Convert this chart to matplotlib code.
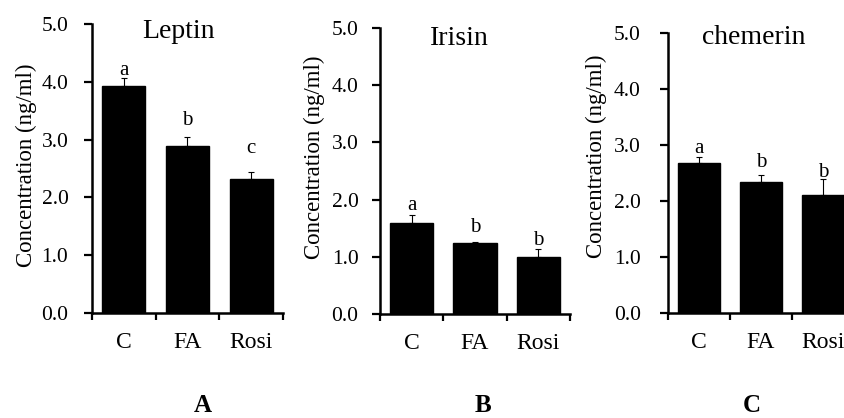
import matplotlib
matplotlib.use("Agg")
import matplotlib.pyplot as plt
import numpy as np

plt.rcParams["font.family"] = ["Liberation Serif", "DejaVu Serif"]

groups = ["C", "FA", "Rosi"]

leptin = [3.93, 2.89, 2.32]
leptin_err = [0.14, 0.15, 0.12]
leptin_letters = ["a", "b", "c"]
leptin_letter_y = [4.12, 3.25, 2.77]

irisin = [1.585, 1.235, 1.00]
irisin_err = [0.145, 0.025, 0.13]
irisin_letters = ["a", "b", "b"]
irisin_letter_y = [1.81, 1.44, 1.21]

chemerin = [2.67, 2.34, 2.10]
chemerin_err = [0.12, 0.13, 0.29]
chemerin_letters = ["a", "b", "b"]
chemerin_letter_y = [2.85, 2.60, 2.42]

W, H = 845, 418


def panel(rect, title, vals, errs, letters, letter_y, title_pos, ylab_pos, ypad):
    l, b, w, h = rect
    ax = fig.add_axes([l / W, b / H, w / W, h / H])
    x = np.arange(len(groups))
    ax.bar(x, vals, width=0.68, color="black", edgecolor="black", zorder=2)
    ax.errorbar(x, vals, yerr=[np.zeros(len(errs)), errs], fmt="none",
                ecolor="black", elinewidth=0.8, capsize=2.5, capthick=0.8,
                zorder=3)
    for xi, lt, ly in zip(x, letters, letter_y):
        ax.text(xi, ly, lt, ha="center", va="baseline", fontsize=15)

    ax.set_xlim(-0.5, 2.5)
    ax.set_ylim(0, 5)
    ax.set_yticks(np.arange(0, 5.1, 1.0))
    ax.set_yticklabels(["%.1f" % v for v in np.arange(0, 5.1, 1.0)])
    ax.set_xticks(x)
    ax.set_xticklabels(groups)
    ax.set_xticks([-0.5, 0.5, 1.5, 2.5], minor=True)
    ax.tick_params(axis="x", which="major", length=0, pad=14, labelsize=17)
    ax.tick_params(axis="x", which="minor", length=5, width=1.6, direction="out")
    ax.tick_params(axis="y", length=6, width=1.6, direction="out",
                   pad=ypad, labelsize=15.5)

    for s in ["top", "right"]:
        ax.spines[s].set_visible(False)
    for s in ["left", "bottom"]:
        ax.spines[s].set_linewidth(1.8)

    ax.set_ylabel("Concentration (ng/ml)", fontsize=16.5)
    ax.yaxis.set_label_coords(*ylab_pos)
    ax.text(title_pos[0], title_pos[1], title, transform=ax.transAxes,
            ha="center", va="baseline", fontsize=20)
    return ax


fig = plt.figure(figsize=(W / 100, H / 100), dpi=100)

panel((92, 105, 191, 289), "Leptin", leptin, leptin_err, leptin_letters,
      leptin_letter_y, (0.453, 0.952), (-0.288, 0.512), 11)
panel((380, 104, 190, 286), "Irisin", irisin, irisin_err, irisin_letters,
      irisin_letter_y, (0.42, 0.94), (-0.29, 0.549), 9.5)
panel((668, 105, 186, 280), "chemerin", chemerin, chemerin_err,
      chemerin_letters, chemerin_letter_y, (0.46, 0.962), (-0.328, 0.561), 13.5)

for px, lab in zip([203, 483, 752], ["A", "B", "C"]):
    fig.text(px / W, 1 - 405 / H, lab, ha="center", va="center",
             fontsize=18, fontweight="bold")

fig.savefig("out.png", dpi=100)
